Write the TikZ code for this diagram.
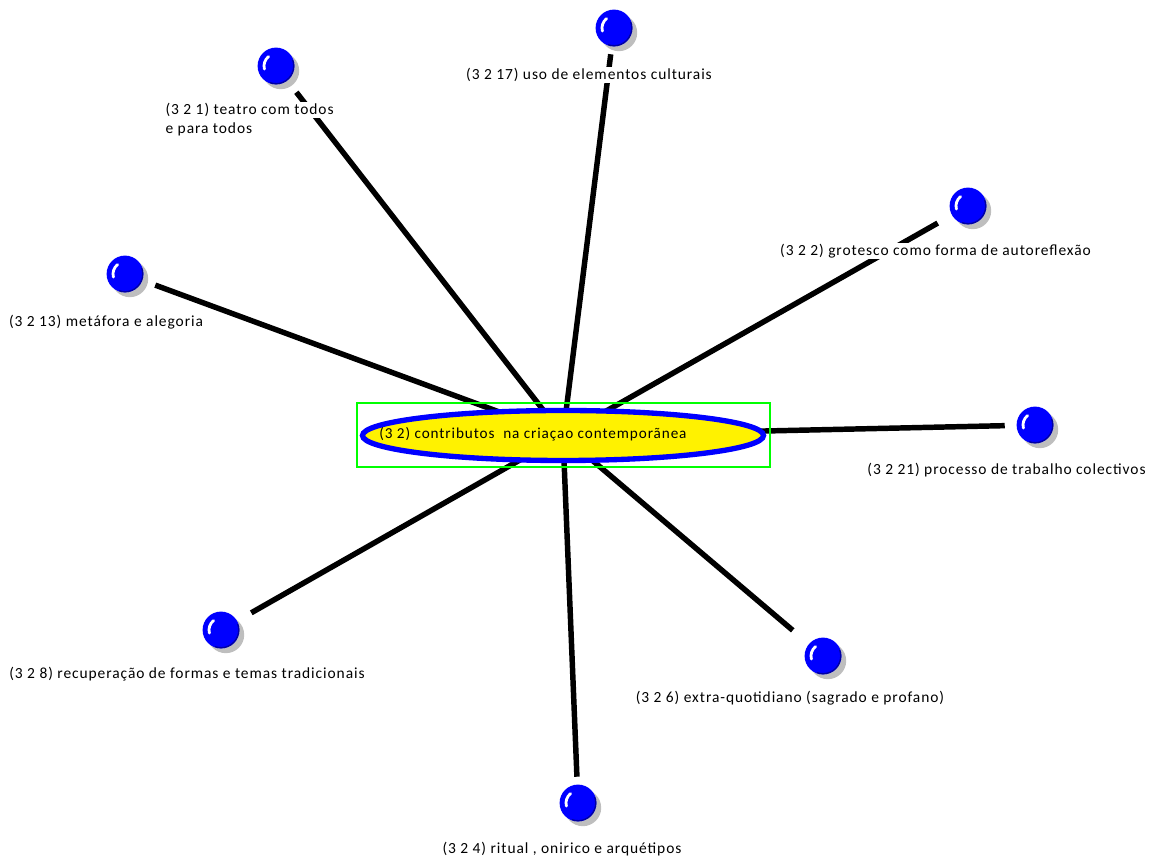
\documentclass[tikz,border=0pt]{standalone}
\usepackage{fontspec}
\setmainfont{Carlito}[LetterSpace=6]
\usetikzlibrary{calc,shapes.geometric}
\pgfdeclarelayer{bg}
\pgfsetlayers{bg,main}
\definecolor{ballblue}{RGB}{0,0,255}
\definecolor{rimblue}{RGB}{0,0,160}
\definecolor{boxgreen}{RGB}{0,255,0}
\definecolor{shadowgray}{RGB}{190,190,190}
\begin{document}
\begin{tikzpicture}[x=0.75pt,y=0.75pt,
  ballnode/.style={rectangle, minimum width=45pt, minimum height=39pt, inner sep=0pt},
  lbl/.style={fill=white, inner sep=1pt, font=\fontsize{11.6pt}{14pt}\selectfont},
  link/.style={line width=4.1pt, black},
  frame/.style={draw=boxgreen, line width=1.5pt, minimum width=309.75pt, minimum height=48pt, inner sep=0pt},
  hub/.style={ellipse, draw=ballblue, fill=yellow, line width=4pt, minimum width=300.75pt, minimum height=37.5pt, inner sep=0pt}
]
\useasboundingbox (0,0) rectangle (1150,860);
% hub
\node[frame] (box) at (563.5,425) {};
\node[hub] (c) at (563,424.5) {};
\node[font=\fontsize{11.4pt}{14pt}\selectfont, inner sep=0pt] (ct) at (533,426) {(3 2) contributos\ \ na criaçao contemporãnea};
% balls (line end boxes)
\node[ballnode] (b17) at (614,832) {};
\node[ballnode] (b1)  at (276,794) {};
\node[ballnode] (b13) at (125,586) {};
\node[ballnode] (b2)  at (968,654) {};
\node[ballnode] (b21) at (1035,435) {};
\node[ballnode] (b8)  at (221,230) {};
\node[ballnode] (b6)  at (823,204) {};
\node[ballnode] (b4)  at (578,57) {};
% labels
\node[lbl] (l17) at (589,785) {(3 2 17) uso de elementos culturais};
\node[lbl, anchor=west] (l1a) at (164,750) {(3 2 1) teatro com todos};
\node[lbl, anchor=west] (l1b) at (164,731) {e para todos};
\node[lbl] (l13) at (106,538) {(3 2 13) metáfora e alegoria};
\node[lbl] (l2)  at (935.5,609) {(3 2 2) grotesco como forma de autoreflexão};
\node[lbl] (l21) at (1006.5,390) {(3 2 21) processo de trabalho colectivos};
\node[lbl] (l8)  at (187,186) {(3 2 8) recuperação de formas e temas tradicionais};
\node[lbl] (l6)  at (790,162) {(3 2 6) extra-quotidiano (sagrado e profano)};
\node[lbl] (l4)  at (562,11) {(3 2 4) ritual , onirico e arquétipos};
% connectors
\begin{pgfonlayer}{bg}
\foreach \b in {b17,b1,b13,b2,b21,b8,b6,b4}{
  \draw[link] (c.center) -- (\b);
}
\end{pgfonlayer}
% ball graphics
\foreach \b in {b17,b1,b13,b2,b21,b8,b6,b4}{
  \fill[shadowgray] ($(\b.center)+(3.6pt,-3.6pt)$) circle (13.8pt);
  \fill[ballblue] (\b.center) circle (13.8pt);
  \begin{scope}
    \clip (\b.center) circle (13.8pt);
    \draw[rimblue, line width=2pt] ($(\b.center)+(-110:13.8pt)$) arc[start angle=-110, end angle=20, radius=13.8pt];
  \end{scope}
  \draw[white, line width=2.1pt, line cap=round] ($(\b.center)+(195:9pt)$) arc[start angle=195, end angle=128, radius=9pt];
}
\end{tikzpicture}
\end{document}
